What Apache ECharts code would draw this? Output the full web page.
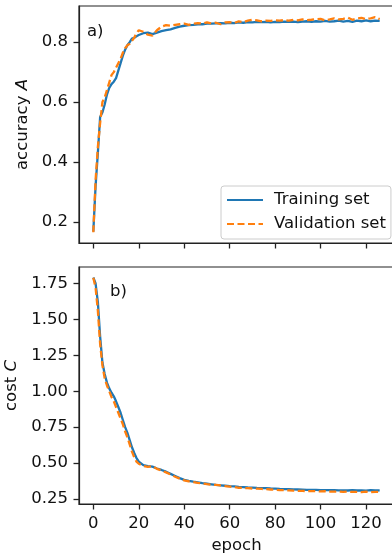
<!DOCTYPE html>
<html>
<head>
<meta charset="utf-8">
<script src="https://cdn.jsdelivr.net/npm/echarts@6/dist/echarts.min.js"></script>
<style>html,body{margin:0;padding:0;background:#fff}#c{width:392px;height:553px}</style>
</head>
<body>
<div id="c"></div>
<script>
var epochs = [0,1,2,3,4,5,6,7,8,9,10,11,12,13,14,15,16,17,18,19,20,
  22,24,26,28,30,32,34,36,38,40,42,44,46,48,50,52,54,56,58,60,62,64,66,68,70,72,74,76,78,80,
  82,84,86,88,90,92,94,96,98,100,102,104,106,108,110,112,114,116,118,120,122,124,126];

var accTrain = [0.167,0.32,0.43,0.55,0.565,0.592,0.625,0.647,0.66,0.668,0.68,0.705,0.73,0.755,0.775,0.79,0.80,0.812,0.815,0.82,0.824,
  0.83,0.832,0.827,0.832,0.837,0.840,0.843,0.848,0.852,0.855,0.857,0.858,0.860,0.860,0.862,0.862,0.863,0.864,0.863,0.865,0.864,0.866,0.865,0.867,0.866,0.868,0.867,0.868,0.866,0.868,
  0.867,0.869,0.868,0.869,0.867,0.869,0.870,0.868,0.870,0.869,0.871,0.869,0.870,0.872,0.869,0.871,0.868,0.872,0.870,0.873,0.870,0.872,0.871];

var accVal = [0.165,0.34,0.45,0.53,0.60,0.615,0.64,0.665,0.69,0.70,0.715,0.73,0.745,0.765,0.78,0.79,0.795,0.805,0.815,0.83,0.84,
  0.835,0.825,0.822,0.84,0.852,0.857,0.855,0.858,0.86,0.862,0.858,0.862,0.864,0.862,0.866,0.863,0.865,0.860,0.866,0.867,0.864,0.870,0.867,0.872,0.875,0.873,0.870,0.872,0.871,0.873,
  0.872,0.874,0.872,0.875,0.873,0.876,0.874,0.875,0.877,0.878,0.873,0.876,0.880,0.876,0.878,0.882,0.875,0.879,0.881,0.877,0.880,0.884,0.877];

var costTrain = [1.792,1.75,1.62,1.38,1.20,1.12,1.06,1.02,0.99,0.965,0.93,0.89,0.85,0.80,0.75,0.71,0.66,0.61,0.57,0.535,0.51,
  0.485,0.478,0.475,0.462,0.452,0.44,0.425,0.41,0.395,0.383,0.376,0.370,0.365,0.360,0.356,0.352,0.348,0.345,0.342,0.339,0.337,0.334,0.332,0.330,0.329,0.327,0.326,0.325,0.323,0.322,
  0.320,0.319,0.318,0.317,0.316,0.315,0.314,0.314,0.313,0.312,0.312,0.311,0.311,0.310,0.310,0.309,0.311,0.309,0.310,0.308,0.311,0.309,0.310];

var costVal = [1.79,1.72,1.56,1.33,1.18,1.09,1.04,1.00,0.96,0.93,0.89,0.85,0.81,0.77,0.72,0.68,0.63,0.58,0.54,0.51,0.495,
  0.48,0.474,0.478,0.46,0.448,0.435,0.42,0.405,0.392,0.38,0.373,0.368,0.362,0.358,0.353,0.349,0.348,0.344,0.340,0.336,0.334,0.328,0.326,0.325,0.323,0.322,0.320,0.318,0.316,0.314,
  0.312,0.311,0.310,0.308,0.307,0.306,0.305,0.305,0.304,0.303,0.304,0.302,0.301,0.302,0.300,0.301,0.299,0.300,0.298,0.301,0.297,0.300,0.299];

var xTicks = [0,20,40,60,80,100,120];
var accTicks = [0.2,0.4,0.6,0.8];
var costTicks = [0.25,0.5,0.75,1.0,1.25,1.5,1.75];
var seriesNames = ['Training set','Validation set'];

function pairs(xs, ys){ return xs.map(function(x,i){ return [x, ys[i]]; }); }

var FONT = 'DejaVu Sans';
var FS = 16.5;
var INK = '#111';
var SPINE = '#222';
var BLUE = '#1f77b4', ORANGE = '#ff7f0e';

function xAxis(grid, showLabels){
  return {
    type:'value', gridIndex:grid, min:-6.3, max:132.3,
    splitLine:{show:false},
    axisLine:{show:true, onZero:false, lineStyle:{color:SPINE, width:1.2}},
    axisTick:{show:true, inside:false, length:5.5, lineStyle:{color:SPINE,width:1.3}, customValues:xTicks},
    axisLabel:{show:showLabels, margin:11, fontFamily:FONT, fontSize:FS, color:INK, customValues:xTicks},
    name: showLabels ? 'epoch' : '',
    nameLocation:'middle', nameGap:33,
    nameTextStyle:{fontFamily:FONT, fontSize:FS, color:INK}
  };
}
function yAxis(grid, min, max, ticks, dec, name, gap){
  return {
    type:'value', gridIndex:grid, min:min, max:max, position:'left',
    splitLine:{show:false},
    axisLine:{show:true, onZero:false, lineStyle:{color:SPINE, width:1.2}},
    axisTick:{show:true, inside:false, length:5.5, lineStyle:{color:SPINE,width:1.3}, customValues:ticks},
    axisLabel:{show:true, margin:11, fontFamily:FONT, fontSize:FS, color:INK, customValues:ticks,
      formatter:function(v){ return v.toFixed(dec); }},
    name:name, nameLocation:'middle', nameGap:gap, nameRotate:90,
    nameTextStyle:{fontFamily:FONT, fontSize:FS, color:INK,
      rich:{n:{fontFamily:FONT, fontSize:FS, color:INK}, i:{fontFamily:FONT, fontSize:FS, color:INK, fontStyle:'italic'}}}
  };
}
function line(name, xi, yi, data, color, dashed){
  return {
    name:name, type:'line', xAxisIndex:xi, yAxisIndex:yi, data:data,
    showSymbol:false, symbol:'none', smooth:false, animation:false,
    lineStyle:{color:color, width:2.3, type: dashed ? [7,3.5] : 'solid'},
    itemStyle:{color:color}, z: dashed ? 3 : 2
  };
}

var chart = echarts.init(document.getElementById('c'), null, {renderer:'canvas'});
chart.setOption({
  animation:false,
  backgroundColor:'#fff',
  grid:[
    {left:79, top:6, width:315, height:237, containLabel:false, outerBoundsMode:'none', show:true, borderColor:SPINE, borderWidth:1.2, backgroundColor:'transparent'},
    {left:79, top:267, width:315, height:237, containLabel:false, outerBoundsMode:'none', show:true, borderColor:SPINE, borderWidth:1.2, backgroundColor:'transparent'}
  ],
  xAxis:[ xAxis(0,false), xAxis(1,true) ],
  yAxis:[
    yAxis(0, 0.129, 0.921, accTicks, 1, '{n|accuracy }{i|A}', 38),
    yAxis(1, 0.215, 1.865, costTicks, 2, '{n|cost }{i|C}', 50)
  ],
  legend:{
    data:seriesNames, orient:'vertical', left:221, top:186,
    padding:[4,5,5,5], itemGap:4, itemWidth:36, itemHeight:14,
    itemStyle:{opacity:0},
    backgroundColor:'rgba(255,255,255,0.8)', borderColor:'#cccccc', borderWidth:1, borderRadius:3,
    textStyle:{fontFamily:FONT, fontSize:FS, color:INK, lineHeight:20, padding:[0,0,0,6]},
    selectedMode:false
  },
  graphic:[
    {type:'text', left:87, top:23, style:{text:'a)', fontFamily:FONT, fontSize:FS, fill:INK}},
    {type:'text', left:110, top:283, style:{text:'b)', fontFamily:FONT, fontSize:FS, fill:INK}}
  ],
  series:[
    line(seriesNames[0], 0, 0, pairs(epochs, accTrain), BLUE, false),
    line(seriesNames[1], 0, 0, pairs(epochs, accVal), ORANGE, true),
    line(seriesNames[0], 1, 1, pairs(epochs, costTrain), BLUE, false),
    line(seriesNames[1], 1, 1, pairs(epochs, costVal), ORANGE, true)
  ]
});
</script>
</body>
</html>
